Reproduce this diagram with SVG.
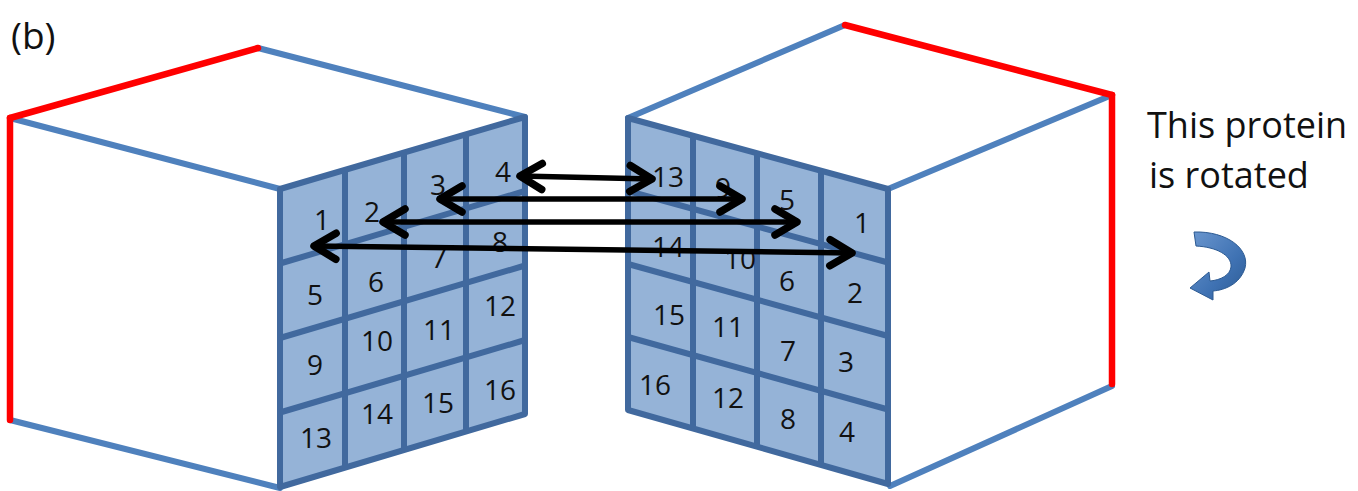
<svg xmlns="http://www.w3.org/2000/svg" width="1358" height="491" viewBox="0 0 1358 491">
  <style>
    .edge { stroke: #4F81BD; stroke-width: 6; fill: none; stroke-linecap: round; }
    .red { stroke: #FF0000; stroke-width: 6.5; fill: none; stroke-linecap: round; }
    .face { fill: #95B3D7; stroke: #41699E; stroke-width: 6; stroke-linejoin: round; }
    .grid { stroke: #41699E; stroke-width: 6; fill: none; }
    .num { font-family: "Open Sans", "Liberation Sans", sans-serif; font-size: 28px; fill: #111; text-anchor: middle; }
    .cap { font-family: "Open Sans", "Liberation Sans", sans-serif; fill: #111; }
    .link { stroke: #000; stroke-width: 5.5; fill: none; marker-start: url(#head); marker-end: url(#head); }
  </style>
  <defs>
    <marker id="head" markerUnits="userSpaceOnUse" markerWidth="36" markerHeight="36" viewBox="-5 -5 36 36" refX="24" refY="13" orient="auto-start-reverse">
      <path d="M2,0 L24,13 L2,26" stroke="#000" stroke-width="7.5" fill="none" stroke-linecap="round" stroke-linejoin="round"/>
    </marker>
    <linearGradient id="turn" x1="0" y1="0" x2="1" y2="1">
      <stop offset="0" stop-color="#6B97CF"/>
      <stop offset="0.6" stop-color="#3F72B3"/>
      <stop offset="1" stop-color="#2C5A92"/>
    </linearGradient>
  </defs>

  <rect width="1358" height="491" fill="#fff"/>

  <text class="cap" x="11" y="49" font-size="37">(b)</text>

  <!-- left cube -->
  <g id="cube-left">
    <line class="edge" x1="10" y1="118" x2="280" y2="189"/>
    <line class="edge" x1="258" y1="48" x2="525" y2="117"/>
    <line class="edge" x1="10" y1="420" x2="280" y2="488"/>
    <line class="red" x1="10" y1="118" x2="258" y2="48"/>
    <line class="red" x1="10" y1="118" x2="10" y2="420"/>
    <polygon class="face" points="280,189 525,117 525,414 280,487"/>
    <g class="grid">
      <line x1="345" y1="170" x2="345" y2="468"/>
      <line x1="404" y1="152" x2="404" y2="451"/>
      <line x1="466" y1="134" x2="466" y2="432"/>
      <line x1="280" y1="263.5" x2="525" y2="191"/>
      <line x1="280" y1="338" x2="525" y2="265.5"/>
      <line x1="280" y1="412.5" x2="525" y2="340"/>
    </g>
    <g class="num">
      <text x="322" y="230">1</text>
      <text x="372" y="222">2</text>
      <text x="438" y="195">3</text>
      <text x="503" y="182">4</text>
      <text x="315" y="305">5</text>
      <text x="376" y="292">6</text>
      <text x="439" y="268">7</text>
      <text x="500" y="252">8</text>
      <text x="315" y="375">9</text>
      <text x="377" y="351">10</text>
      <text x="439" y="340">11</text>
      <text x="500" y="316">12</text>
      <text x="316" y="448">13</text>
      <text x="377" y="424">14</text>
      <text x="438" y="413">15</text>
      <text x="500" y="400">16</text>
    </g>
  </g>

  <!-- right cube -->
  <g id="cube-right">
    <line class="edge" x1="628" y1="118" x2="845" y2="25"/>
    <line class="edge" x1="1112" y1="95" x2="888" y2="189"/>
    <line class="edge" x1="890" y1="486" x2="1112" y2="386"/>
    <line class="red" x1="845" y1="25" x2="1112" y2="95"/>
    <line class="red" x1="1112" y1="95" x2="1112" y2="384"/>
    <polygon class="face" points="628,118 888,189 888,484 628,410"/>
    <g class="grid">
      <line x1="693" y1="136" x2="693" y2="428"/>
      <line x1="757" y1="153" x2="757" y2="446"/>
      <line x1="821" y1="171" x2="821" y2="465"/>
      <line x1="628" y1="191" x2="888" y2="262.5"/>
      <line x1="628" y1="264" x2="888" y2="336"/>
      <line x1="628" y1="337" x2="888" y2="409.5"/>
    </g>
    <g class="num">
      <text x="668" y="187">13</text>
      <text x="723" y="198">9</text>
      <text x="787" y="210">5</text>
      <text x="862" y="233">1</text>
      <text x="668" y="257">14</text>
      <text x="740" y="269">10</text>
      <text x="787" y="291">6</text>
      <text x="855" y="303">2</text>
      <text x="669" y="325">15</text>
      <text x="728" y="337">11</text>
      <text x="788" y="361">7</text>
      <text x="846" y="372">3</text>
      <text x="655" y="395">16</text>
      <text x="728" y="408">12</text>
      <text x="788" y="429">8</text>
      <text x="847" y="442">4</text>
    </g>
  </g>

  <!-- correspondence arrows -->
  <g id="connectors">
    <line class="link" x1="520" y1="176" x2="652" y2="179"/>
    <line class="link" x1="440" y1="199" x2="742" y2="199"/>
    <line class="link" x1="383" y1="222" x2="797" y2="222"/>
    <line class="link" x1="314" y1="246" x2="852" y2="253"/>
  </g>

  <!-- rotation note -->
  <g id="note">
    <text class="cap" x="1147" y="138" font-size="36">This protein</text>
    <text class="cap" x="1149" y="188" font-size="36">is rotated</text>
    <path d="M1194,232 C1227,231 1250,249 1245,268 C1240,284 1225,290 1213,291 L1213,300 L1190,288 L1209,272 L1210,281 C1221,280 1230,275 1231,267 C1232,255 1216,247 1196,246 Z" fill="url(#turn)" stroke="#2C5A92" stroke-width="1"/>
  </g>
</svg>
